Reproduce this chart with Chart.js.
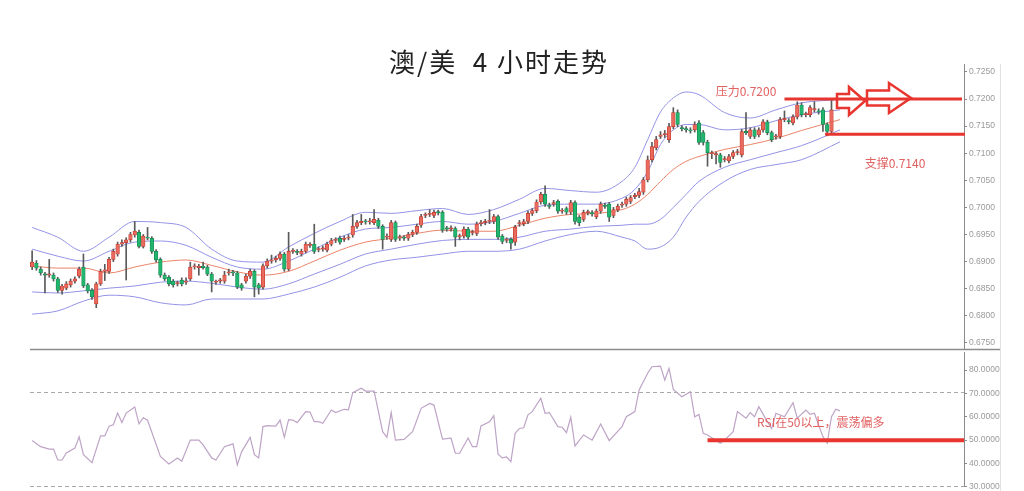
<!DOCTYPE html>
<html lang="zh-CN">
<head>
<meta charset="UTF-8">
<title>澳/美 4小时走势</title>
<script src="https://cdn.jsdelivr.net/npm/chart.js"></script>
<style>
  html, body { margin: 0; padding: 0; background: #fff; }
  #wrap { position: relative; width: 1024px; height: 491px; overflow: hidden; }
  #title { position: absolute; left: 0; top: 42px; width: 998px; text-align: center; z-index: 2;
           font: 400 26px "Noto Sans CJK SC", sans-serif; letter-spacing: 2px; color: #222; white-space: pre; }
  #mainChart { position: absolute; left: 0; top: 0; }
  #rsiChart { position: absolute; left: 0; top: 344px; }
</style>
</head>
<body>
<div id="wrap">
  <div id="title">澳/美  4 小时走势</div>
  <canvas id="mainChart" width="1024" height="356"></canvas>
  <canvas id="rsiChart" width="1024" height="150"></canvas>
</div>

<script>
// 4小时K线
const opens = [
  0.6890, 0.6897, 0.6886, 0.6877, 0.6875, 0.6875, 0.6868, 0.6847, 0.6851, 0.6857,
  0.6864, 0.6873, 0.6890, 0.6857, 0.6847, 0.6822, 0.6859, 0.6882, 0.6882, 0.6904,
  0.6914, 0.6932, 0.6935, 0.6940, 0.6949, 0.6954, 0.6928, 0.6945, 0.6943, 0.6919,
  0.6904, 0.6875, 0.6871, 0.6864, 0.6859, 0.6866, 0.6862, 0.6868, 0.6890, 0.6889,
  0.6891, 0.6890, 0.6877, 0.6862, 0.6864, 0.6864, 0.6879, 0.6880, 0.6879, 0.6857,
  0.6864, 0.6873, 0.6882, 0.6857, 0.6853, 0.6892, 0.6901, 0.6903, 0.6906, 0.6914,
  0.6886, 0.6919, 0.6918, 0.6914, 0.6919, 0.6930, 0.6932, 0.6922, 0.6923, 0.6921,
  0.6932, 0.6939, 0.6943, 0.6941, 0.6943, 0.6949, 0.6965, 0.6972, 0.6974, 0.6973,
  0.6972, 0.6976, 0.6965, 0.6945, 0.6941, 0.6972, 0.6943, 0.6944, 0.6943, 0.6950,
  0.6954, 0.6967, 0.6985, 0.6987, 0.6985, 0.6991, 0.6991, 0.6961, 0.6960, 0.6961,
  0.6946, 0.6947, 0.6960, 0.6953, 0.6952, 0.6970, 0.6972, 0.6974, 0.6974, 0.6983,
  0.6947, 0.6939, 0.6941, 0.6936, 0.6970, 0.6970, 0.6974, 0.6989, 0.6994, 0.7010,
  0.7024, 0.7004, 0.7006, 0.7011, 0.6993, 0.6998, 0.6991, 0.7009, 0.6982, 0.6978,
  0.6990, 0.6990, 0.6983, 0.6993, 0.7004, 0.7006, 0.6985, 0.6996, 0.7004, 0.7006,
  0.7011, 0.7020, 0.7022, 0.7028, 0.7051, 0.7088, 0.7110, 0.7131, 0.7134, 0.7125,
  0.7149, 0.7175, 0.7147, 0.7145, 0.7143, 0.7143, 0.7156, 0.7138, 0.7120, 0.7099,
  0.7097, 0.7097, 0.7088, 0.7086, 0.7094, 0.7101, 0.7097, 0.7140, 0.7131, 0.7143,
  0.7134, 0.7143, 0.7158, 0.7138, 0.7130, 0.7131, 0.7162, 0.7160, 0.7156, 0.7167,
  0.7189, 0.7171, 0.7171, 0.7180, 0.7178, 0.7180, 0.7153, 0.7140
];
const closes = [
  0.6899, 0.6888, 0.6879, 0.6875, 0.6876, 0.6868, 0.6847, 0.6855, 0.6859, 0.6864,
  0.6868, 0.6886, 0.6855, 0.6846, 0.6835, 0.6859, 0.6882, 0.6885, 0.6904, 0.6919,
  0.6932, 0.6935, 0.6940, 0.6950, 0.6956, 0.6928, 0.6947, 0.6943, 0.6919, 0.6903,
  0.6875, 0.6868, 0.6859, 0.6857, 0.6860, 0.6859, 0.6863, 0.6890, 0.6891, 0.6891,
  0.6889, 0.6877, 0.6864, 0.6863, 0.6865, 0.6875, 0.6880, 0.6879, 0.6853, 0.6851,
  0.6873, 0.6882, 0.6853, 0.6851, 0.6892, 0.6901, 0.6903, 0.6906, 0.6914, 0.6886,
  0.6919, 0.6920, 0.6917, 0.6919, 0.6932, 0.6931, 0.6919, 0.6923, 0.6925, 0.6932,
  0.6939, 0.6940, 0.6936, 0.6943, 0.6945, 0.6965, 0.6972, 0.6974, 0.6973, 0.6975,
  0.6978, 0.6965, 0.6941, 0.6947, 0.6972, 0.6941, 0.6945, 0.6943, 0.6950, 0.6954,
  0.6965, 0.6983, 0.6986, 0.6989, 0.6991, 0.6990, 0.6958, 0.6960, 0.6962, 0.6945,
  0.6947, 0.6960, 0.6945, 0.6954, 0.6969, 0.6972, 0.6974, 0.6976, 0.6983, 0.6945,
  0.6937, 0.6940, 0.6934, 0.6963, 0.6972, 0.6974, 0.6989, 0.6994, 0.7010, 0.7024,
  0.7006, 0.7002, 0.7009, 0.6993, 0.6994, 0.6991, 0.7009, 0.6974, 0.6972, 0.6991,
  0.6991, 0.6988, 0.6993, 0.7006, 0.7002, 0.6982, 0.6996, 0.7002, 0.7006, 0.7015,
  0.7018, 0.7022, 0.7029, 0.7051, 0.7088, 0.7112, 0.7125, 0.7134, 0.7136, 0.7149,
  0.7175, 0.7153, 0.7145, 0.7143, 0.7141, 0.7153, 0.7120, 0.7120, 0.7101, 0.7100,
  0.7098, 0.7083, 0.7090, 0.7094, 0.7101, 0.7103, 0.7140, 0.7138, 0.7143, 0.7131,
  0.7143, 0.7158, 0.7138, 0.7125, 0.7131, 0.7162, 0.7163, 0.7158, 0.7167, 0.7189,
  0.7171, 0.7172, 0.7184, 0.7181, 0.7176, 0.7153, 0.7140, 0.7180
];
const highs = [
  0.6920, 0.6902, 0.6890, 0.6880, 0.6904, 0.6879, 0.6871, 0.6858, 0.6863, 0.6868,
  0.6872, 0.6890, 0.6914, 0.6860, 0.6850, 0.6862, 0.6886, 0.6895, 0.6908, 0.6923,
  0.6936, 0.6940, 0.6944, 0.6954, 0.6974, 0.6958, 0.6950, 0.6963, 0.6946, 0.6922,
  0.6907, 0.6879, 0.6874, 0.6867, 0.6864, 0.6870, 0.6870, 0.6899, 0.6896, 0.6895,
  0.6899, 0.6893, 0.6880, 0.6866, 0.6869, 0.6882, 0.6886, 0.6884, 0.6882, 0.6860,
  0.6877, 0.6886, 0.6885, 0.6860, 0.6896, 0.6905, 0.6912, 0.6910, 0.6918, 0.6917,
  0.6954, 0.6924, 0.6922, 0.6923, 0.6936, 0.6935, 0.6969, 0.6927, 0.6929, 0.6936,
  0.6943, 0.6944, 0.6947, 0.6947, 0.6950, 0.6987, 0.6976, 0.6987, 0.6978, 0.6980,
  0.6996, 0.6980, 0.6968, 0.6951, 0.6976, 0.6975, 0.6949, 0.6948, 0.6954, 0.6958,
  0.6969, 0.6987, 0.6990, 0.6996, 0.6995, 0.6995, 0.6994, 0.6965, 0.6966, 0.6964,
  0.6951, 0.6964, 0.6963, 0.6958, 0.6973, 0.6976, 0.6978, 0.6996, 0.6987, 0.6986,
  0.6950, 0.6944, 0.6944, 0.6967, 0.6976, 0.6978, 0.6993, 0.6998, 0.7014, 0.7028,
  0.7040, 0.7008, 0.7013, 0.7014, 0.6998, 0.7001, 0.7013, 0.7012, 0.6985, 0.6995,
  0.6995, 0.6994, 0.6997, 0.7010, 0.7008, 0.7009, 0.7000, 0.7006, 0.7010, 0.7019,
  0.7022, 0.7026, 0.7035, 0.7055, 0.7095, 0.7120, 0.7131, 0.7140, 0.7142, 0.7155,
  0.7184, 0.7180, 0.7151, 0.7149, 0.7147, 0.7158, 0.7160, 0.7142, 0.7124, 0.7104,
  0.7102, 0.7100, 0.7094, 0.7098, 0.7105, 0.7107, 0.7144, 0.7175, 0.7147, 0.7147,
  0.7147, 0.7162, 0.7161, 0.7141, 0.7135, 0.7166, 0.7178, 0.7164, 0.7171, 0.7195,
  0.7193, 0.7176, 0.7188, 0.7195, 0.7182, 0.7184, 0.7156, 0.7198
];
const lows = [
  0.6885, 0.6884, 0.6875, 0.6842, 0.6871, 0.6864, 0.6843, 0.6840, 0.6848, 0.6853,
  0.6860, 0.6870, 0.6852, 0.6842, 0.6830, 0.6815, 0.6856, 0.6865, 0.6878, 0.6900,
  0.6910, 0.6928, 0.6866, 0.6936, 0.6945, 0.6925, 0.6925, 0.6940, 0.6915, 0.6899,
  0.6871, 0.6865, 0.6855, 0.6853, 0.6855, 0.6855, 0.6858, 0.6865, 0.6886, 0.6875,
  0.6886, 0.6874, 0.6844, 0.6858, 0.6860, 0.6860, 0.6875, 0.6874, 0.6850, 0.6847,
  0.6860, 0.6869, 0.6835, 0.6840, 0.6849, 0.6888, 0.6897, 0.6899, 0.6902, 0.6882,
  0.6883, 0.6915, 0.6913, 0.6910, 0.6916, 0.6926, 0.6915, 0.6918, 0.6919, 0.6918,
  0.6929, 0.6935, 0.6932, 0.6937, 0.6940, 0.6945, 0.6961, 0.6968, 0.6969, 0.6969,
  0.6968, 0.6961, 0.6923, 0.6941, 0.6937, 0.6937, 0.6939, 0.6939, 0.6939, 0.6946,
  0.6950, 0.6963, 0.6981, 0.6983, 0.6981, 0.6986, 0.6954, 0.6956, 0.6956, 0.6928,
  0.6940, 0.6943, 0.6941, 0.6949, 0.6948, 0.6966, 0.6968, 0.6970, 0.6970, 0.6941,
  0.6933, 0.6935, 0.6923, 0.6930, 0.6965, 0.6966, 0.6970, 0.6985, 0.6990, 0.7006,
  0.7002, 0.6998, 0.7002, 0.6989, 0.6989, 0.6987, 0.6987, 0.6969, 0.6966, 0.6974,
  0.6986, 0.6984, 0.6979, 0.6989, 0.6998, 0.6974, 0.6981, 0.6992, 0.7000, 0.7002,
  0.7007, 0.7016, 0.7018, 0.7024, 0.7047, 0.7084, 0.7106, 0.7127, 0.7129, 0.7120,
  0.7145, 0.7149, 0.7141, 0.7139, 0.7137, 0.7139, 0.7116, 0.7115, 0.7076, 0.7090,
  0.7080, 0.7074, 0.7084, 0.7082, 0.7090, 0.7097, 0.7093, 0.7134, 0.7127, 0.7127,
  0.7130, 0.7139, 0.7134, 0.7121, 0.7126, 0.7127, 0.7158, 0.7154, 0.7152, 0.7163,
  0.7167, 0.7167, 0.7167, 0.7176, 0.7172, 0.7140, 0.7132, 0.7136
];

// 布林带（按K线序号取点）
const bandIdx = [0, 6, 12, 18, 24, 30, 36, 42, 48, 54, 60, 66, 72, 78, 84, 90, 96, 102, 108, 114,
                 120, 126, 132, 138, 141, 144, 147, 150, 153, 156, 162, 168, 174, 180, 189];
const upper2 = [0.6963, 0.6945, 0.6919, 0.6945, 0.6974, 0.6972, 0.6963, 0.6923, 0.6901, 0.6899,
                0.6927, 0.6952, 0.6974, 0.6991, 0.6989, 0.6994, 0.6998, 0.6987, 0.6996, 0.7015,
                0.7035, 0.7031, 0.7028, 0.7048, 0.7074, 0.7125, 0.7176, 0.7202, 0.7213, 0.7208,
                0.7175, 0.7165, 0.7180, 0.7193, 0.7199];
const upper1 = [0.6923, 0.6910, 0.6901, 0.6919, 0.6936, 0.6938, 0.6930, 0.6908, 0.6890, 0.6886,
                0.6901, 0.6923, 0.6945, 0.6960, 0.6963, 0.6969, 0.6974, 0.6969, 0.6974, 0.6989,
                0.7004, 0.7006, 0.7006, 0.7017, 0.7033, 0.7066, 0.7116, 0.7143, 0.7153, 0.7153,
                0.7143, 0.7147, 0.7160, 0.7171, 0.7180];
const middle = [0.6892, 0.6888, 0.6888, 0.6879, 0.6890, 0.6899, 0.6903, 0.6893, 0.6881, 0.6875,
                0.6882, 0.6901, 0.6921, 0.6936, 0.6943, 0.6952, 0.6958, 0.6956, 0.6956, 0.6967,
                0.6980, 0.6987, 0.6989, 0.6996, 0.7006, 0.7024, 0.7048, 0.7070, 0.7085, 0.7094,
                0.7107, 0.7116, 0.7127, 0.7142, 0.7162];
const lower1 = [0.6844, 0.6842, 0.6846, 0.6851, 0.6855, 0.6862, 0.6864, 0.6860, 0.6853, 0.6849,
                0.6859, 0.6877, 0.6895, 0.6914, 0.6923, 0.6932, 0.6939, 0.6941, 0.6941, 0.6945,
                0.6956, 0.6960, 0.6965, 0.6967, 0.6969, 0.6969, 0.6978, 0.7000, 0.7024, 0.7048,
                0.7074, 0.7088, 0.7101, 0.7114, 0.7143];
const lower2 = [0.6803, 0.6809, 0.6827, 0.6838, 0.6835, 0.6824, 0.6820, 0.6831, 0.6831, 0.6831,
                0.6840, 0.6853, 0.6871, 0.6892, 0.6903, 0.6908, 0.6914, 0.6919, 0.6919, 0.6923,
                0.6938, 0.6950, 0.6956, 0.6945, 0.6938, 0.6923, 0.6927, 0.6945, 0.6982, 0.7011,
                0.7048, 0.7070, 0.7079, 0.7088, 0.7121];

// RSI（按K线序号取点）
const rsiIdx = [0, 2, 4, 5, 6, 7, 8, 10, 11, 12, 14, 16, 17, 18, 19, 20, 21, 22, 24, 25,
                26, 27, 30, 32, 34, 35, 37, 39, 40, 42, 43, 45, 47, 48, 49, 51, 52, 53, 54, 55,
                57, 58, 59, 60, 61, 62, 64, 65, 66, 67, 68, 70, 71, 73, 74, 75, 77, 78, 80, 82,
                83, 84, 85, 87, 89, 91, 93, 94, 96, 98, 99, 100, 102, 103, 104, 105, 107, 108, 109, 110,
                111, 112, 113, 114, 115, 116, 117, 119, 120, 121, 123, 124, 125, 126, 127, 129, 131, 133, 135, 138,
                139, 141, 142, 144, 145, 147, 148, 149, 150, 152, 154, 155, 156, 157, 158, 161, 162, 164, 165, 167,
                168, 169, 170, 172, 173, 174, 176, 178, 179, 181, 182, 183, 185, 186, 187, 188, 189];
const rsiValues = [49.8, 47.2, 46.2, 46.2, 41.5, 41.5, 44.5, 46.6, 51.4, 43.8, 40.4, 51.8, 51.8, 56.0, 56.6, 61.6, 57.5, 61.6, 64.2, 57.0,
                   59.6, 58.5, 43.0, 39.8, 42.4, 41.0, 50.0, 50.0, 48.0, 42.4, 41.5, 47.2, 48.4, 39.4, 45.0, 51.2, 43.8, 42.4, 55.8, 56.2,
                   56.0, 58.6, 51.2, 58.8, 58.6, 57.5, 62.2, 62.0, 57.9, 57.9, 57.2, 62.9, 61.8, 63.2, 63.0, 70.3, 72.2, 71.0, 71.0, 53.6,
                   51.2, 61.8, 50.0, 50.3, 53.6, 63.6, 65.7, 65.0, 50.4, 50.8, 44.4, 44.4, 50.9, 47.2, 47.2, 56.1, 57.9, 60.5, 44.0, 42.4,
                   42.8, 40.8, 52.9, 55.0, 55.3, 60.8, 62.2, 67.9, 61.5, 61.8, 55.8, 55.5, 53.2, 59.8, 47.5, 52.2, 50.0, 56.9, 49.8, 55.8,
                   60.0, 62.2, 71.5, 78.6, 81.4, 81.7, 75.7, 80.7, 71.7, 68.6, 70.7, 60.0, 61.0, 52.9, 52.2, 48.7, 50.0, 53.6, 62.2, 59.4,
                   61.8, 60.0, 64.3, 57.9, 55.0, 61.5, 60.0, 66.0, 59.4, 62.9, 61.0, 61.5, 51.5, 48.7, 60.0, 63.2, 62.5];

// 标注
const resistance = 0.7200, resistanceFrom = 176;
const support = 0.7135, supportFrom = 185.5;
const rsiMark = 50, rsiMarkFrom = 158;
const xMin = -0.5, xMax = 218;

const RED = '#ea6a5e', RED_EDGE = '#c2392d';
const GREEN = '#22b56e', GREEN_EDGE = '#14864f';
const WICK = '#5a5a5a';
const BAND = '#9393e6', MID = '#ea8468';
const ANNO = '#e8352f', ANNO_TEXT = '#e26161';
const TICK_FONT = { family: 'Liberation Sans', size: 8.5 };

const candleIdx = closes.map((_, i) => i);
const isUp = i => closes[i] >= opens[i];

function bandLine(values, color) {
  return {
    type: 'line',
    data: bandIdx.map((x, k) => ({ x: x, y: values[k] })),
    borderColor: color,
    borderWidth: 1,
    pointRadius: 0,
    cubicInterpolationMode: 'monotone',
    order: 3
  };
}

function arrow(ctx, x0, x1, cy, sh, hh, hl) {
  const xb = x1 - hl;
  ctx.beginPath();
  ctx.moveTo(x0, cy - sh);
  ctx.lineTo(xb, cy - sh);
  ctx.lineTo(xb, cy - hh);
  ctx.lineTo(x1, cy);
  ctx.lineTo(xb, cy + hh);
  ctx.lineTo(xb, cy + sh);
  ctx.lineTo(x0, cy + sh);
  ctx.closePath();
  ctx.stroke();
}

function frameLine(ctx, a) {
  ctx.strokeStyle = '#e2e2e2';
  ctx.lineWidth = 1;
  ctx.beginPath();
  ctx.moveTo(1000.5, a.top);
  ctx.lineTo(1000.5, a.bottom + 4);
  ctx.stroke();
}

const mainAnno = {
  id: 'mainAnno',
  afterDatasetsDraw(chart) {
    const { ctx, chartArea: a, scales: { x, y } } = chart;
    ctx.save();
    frameLine(ctx, a);
    ctx.strokeStyle = '#8c8c8c';
    ctx.lineWidth = 1.5;
    ctx.beginPath();
    ctx.moveTo(a.left, a.bottom + 0.5);
    ctx.lineTo(1000, a.bottom + 0.5);
    ctx.stroke();

    // 压力 / 支撑
    const ry = y.getPixelForValue(resistance);
    const sy = y.getPixelForValue(support);
    ctx.strokeStyle = ANNO;
    ctx.lineWidth = 3;
    ctx.beginPath();
    ctx.moveTo(x.getPixelForValue(resistanceFrom), ry);
    ctx.lineTo(a.right - 2, ry);
    ctx.moveTo(x.getPixelForValue(supportFrom), sy);
    ctx.lineTo(a.right + 1, sy);
    ctx.stroke();

    // 空心箭头
    ctx.lineWidth = 2.5;
    ctx.lineJoin = 'miter';
    arrow(ctx, a.right - 127, a.right - 99, ry + 2, 7, 14, 16);
    arrow(ctx, a.right - 97, a.right - 53, ry - 1, 7.5, 15, 22);

    ctx.fillStyle = ANNO_TEXT;
    ctx.font = '12px "Noto Sans CJK SC"';
    ctx.textAlign = 'center';
    ctx.textBaseline = 'middle';
    ctx.fillText('压力0.7200', x.getPixelForValue(167), ry - 8);
    ctx.fillText('支撑0.7140', a.right - 69, sy + 29);
    ctx.restore();
  }
};

const rsiAnno = {
  id: 'rsiAnno',
  beforeDatasetsDraw(chart) {
    const { ctx, chartArea: a, scales: { y } } = chart;
    ctx.save();
    frameLine(ctx, a);
    ctx.strokeStyle = '#a9a9a9';
    ctx.lineWidth = 1;
    ctx.setLineDash([4, 3]);
    [70, 30].forEach(v => {
      const py = Math.round(y.getPixelForValue(v)) - 0.5;
      ctx.beginPath();
      ctx.moveTo(a.left, py);
      ctx.lineTo(a.right, py);
      ctx.stroke();
    });
    ctx.restore();
  },
  afterDatasetsDraw(chart) {
    const { ctx, chartArea: a, scales: { x, y } } = chart;
    ctx.save();
    const py = y.getPixelForValue(rsiMark);
    ctx.strokeStyle = ANNO;
    ctx.lineWidth = 4;
    ctx.beginPath();
    ctx.moveTo(x.getPixelForValue(rsiMarkFrom), py);
    ctx.lineTo(a.right, py);
    ctx.stroke();
    ctx.fillStyle = ANNO_TEXT;
    ctx.font = '12px "Noto Sans CJK SC"';
    ctx.textAlign = 'center';
    ctx.textBaseline = 'middle';
    ctx.fillText('RSI在50以上，震荡偏多', x.getPixelForValue(184.5), py - 18);
    ctx.restore();
  }
};

function rightAxis(min, max, step) {
  return {
    position: 'right',
    min: min,
    max: max,
    afterFit: s => { s.width = 60; },
    border: { display: true, color: '#8a8a8a', width: 1 },
    grid: { display: true, drawOnChartArea: false, drawTicks: true, tickLength: 3, color: '#8a8a8a' },
    ticks: {
      stepSize: step,
      includeBounds: false,
      autoSkip: false,
      padding: 2,
      color: '#9a9a9a',
      font: TICK_FONT,
      callback: v => Number(v).toFixed(4)
    }
  };
}

const xAxis = { type: 'linear', min: xMin, max: xMax, offset: false, display: false };

new Chart(document.getElementById('mainChart'), {
  type: 'bar',
  data: {
    datasets: [
      {
        type: 'bar',
        data: candleIdx.map(i => ({ x: i, y: [opens[i], closes[i]] })),
        backgroundColor: c => isUp(c.dataIndex) ? RED : GREEN,
        borderColor: c => isUp(c.dataIndex) ? RED_EDGE : GREEN_EDGE,
        borderWidth: 0.7,
        borderSkipped: false,
        barThickness: 3.6,
        minBarLength: 1.2,
        grouped: false,
        order: 1
      },
      {
        type: 'bar',
        data: candleIdx.map(i => ({ x: i, y: [lows[i], highs[i]] })),
        backgroundColor: WICK,
        barThickness: 1,
        grouped: false,
        order: 2
      },
      bandLine(upper2, BAND),
      bandLine(upper1, BAND),
      bandLine(middle, MID),
      bandLine(lower1, BAND),
      bandLine(lower2, BAND)
    ]
  },
  options: {
    responsive: false,
    animation: false,
    events: [],
    layout: { padding: { left: 30, right: 0, top: 64, bottom: 6 } },
    plugins: { legend: { display: false }, tooltip: { enabled: false } },
    scales: {
      x: xAxis,
      y: rightAxis(0.67389, 0.72646, 0.005)
    }
  },
  plugins: [mainAnno]
});

new Chart(document.getElementById('rsiChart'), {
  type: 'line',
  data: {
    datasets: [{
      data: rsiIdx.map((x, k) => ({ x: x, y: rsiValues[k] })),
      borderColor: '#bea4c6',
      borderWidth: 1.2,
      pointRadius: 0,
      tension: 0
    }]
  },
  options: {
    responsive: false,
    animation: false,
    events: [],
    layout: { padding: { left: 30, right: 0, top: 8, bottom: 7 } },
    plugins: { legend: { display: false }, tooltip: { enabled: false } },
    scales: {
      x: xAxis,
      y: rightAxis(30, 87.7, 10)
    }
  },
  plugins: [rsiAnno]
});
</script>
</body>
</html>
